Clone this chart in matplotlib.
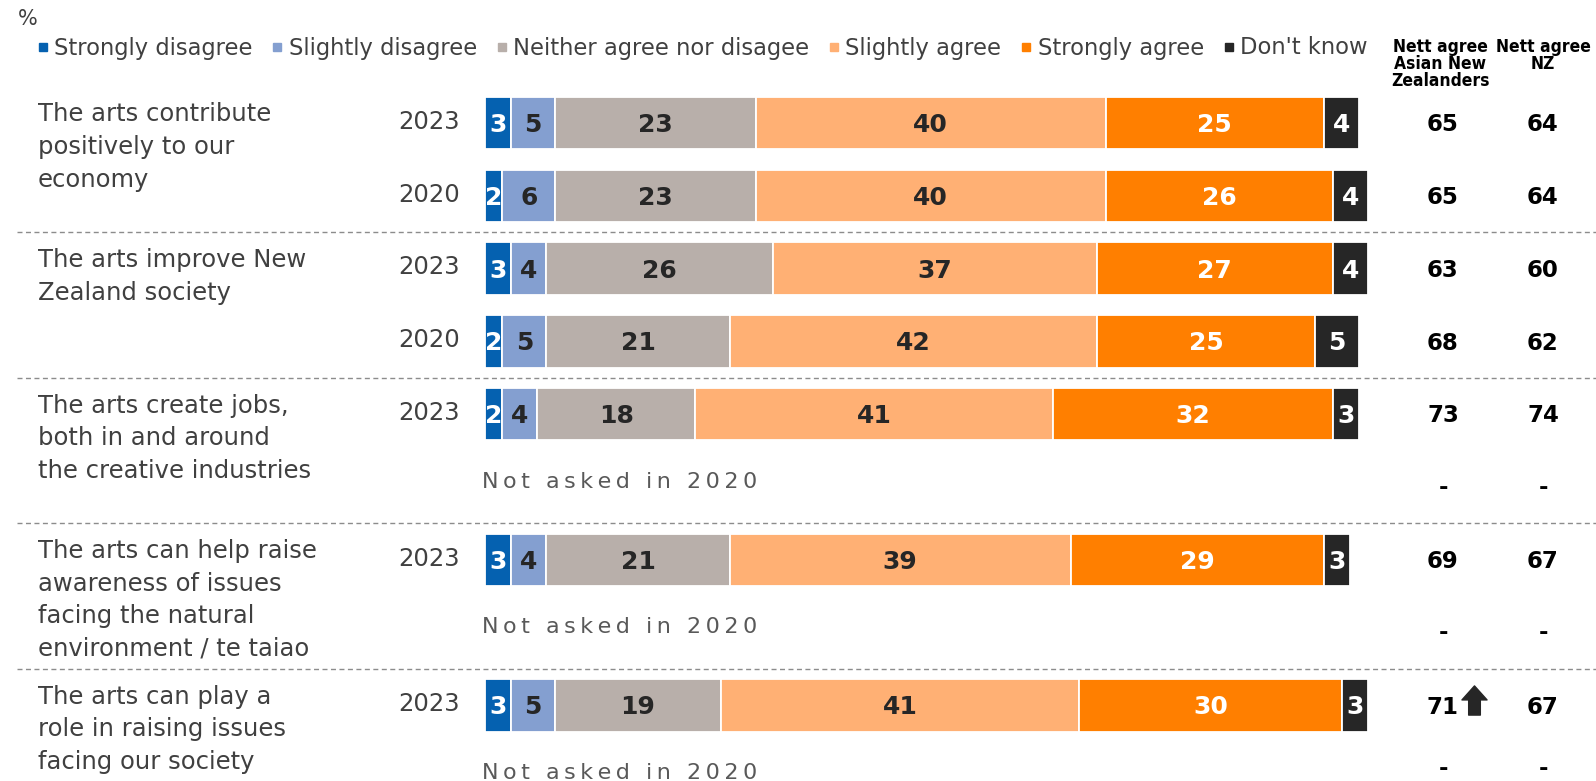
import numpy as np
import matplotlib
matplotlib.use('Agg')
import matplotlib.pyplot as plt
from matplotlib import transforms
from matplotlib.path import Path
from matplotlib.lines import Line2D

plt.rcParams['font.family'] = ['DejaVu Sans']

# Answer scale and colours
categories = ['Strongly disagree', 'Slightly disagree', 'Neither agree nor disagee',
              'Slightly agree', 'Strongly agree', "Don't know"]
colors = ['#0561b0', '#849fd0', '#b8afaa', '#ffb074', '#ff7f00', '#262626']
value_colors = ['white', '#262626', '#262626', '#262626', 'white', 'white']

statements = ['The arts contribute\npositively to our\neconomy',
              'The arts improve New\nZealand society',
              'The arts create jobs,\nboth in and around\nthe creative industries',
              'The arts can help raise\nawareness of issues\nfacing the natural\nenvironment / te taiao',
              'The arts can play a\nrole in raising issues\nfacing our society']
# bar rows that belong to each statement (2023 first, then 2020 if asked)
statement_rows = [[0, 1], [2, 3], [4], [5], [6]]

years = ['2023', '2020', '2023', '2020', '2023', '2023', '2023']
strongly_disagree = [3, 2, 3, 2, 2, 3, 3]
slightly_disagree = [5, 6, 4, 5, 4, 4, 5]
neither = [23, 23, 26, 21, 18, 21, 19]
slightly_agree = [40, 40, 37, 42, 41, 39, 41]
strongly_agree = [25, 26, 27, 25, 32, 29, 30]
dont_know = [4, 4, 4, 5, 3, 3, 3]
nett_asian = [65, 65, 63, 68, 73, 69, 71]
nett_nz = [64, 64, 60, 62, 74, 67, 67]
sig_higher = [False, False, False, False, False, False, True]

series = [strongly_disagree, slightly_disagree, neither, slightly_agree, strongly_agree, dont_know]

W, H = 1596, 781
fig = plt.figure(figsize=(W / 100, H / 100), dpi=100)
fig.patch.set_facecolor('white')

def fx(px):
    return px / W

# bar area: 0-100% spans these pixels, one slot per row
bar_left, bar_right = 485, 1359
slot_px, first_slot_px = 72.8, 123
ax = fig.add_axes([fx(bar_left), 0, fx(bar_right - bar_left), 1])
ax.set_xlim(0, 100)
ax.set_ylim((H - first_slot_px) / slot_px, -first_slot_px / slot_px)
ax.axis('off')

mix = transforms.blended_transform_factory(fig.transFigure, ax.transData)
text_col = '#404040'

def cap_text(x, y, s, size, trans, **kw):
    # put the middle of the cap height on y
    tr = transforms.offset_copy(trans, fig=fig, y=-0.36 * size, units='points')
    return ax.text(x, y, s, transform=tr, fontsize=size, va='baseline', clip_on=False, **kw)

# work out the slot of every bar row
row_slot = {}
not_asked_slots = []
for i, rows in enumerate(statement_rows):
    for j, r in enumerate(rows):
        row_slot[r] = 2 * i + j
    if len(rows) == 1:
        not_asked_slots.append(2 * i + 1)
slots = np.array([row_slot[r] for r in range(len(years))])

# stacked bars
left = np.zeros(len(years))
for vals, c, tc in zip(series, colors, value_colors):
    vals = np.array(vals, dtype=float)
    ax.barh(slots, vals, left=left, height=0.72, color=c, edgecolor='white',
            linewidth=1.3, clip_on=False)
    for y, l, v in zip(slots, left, vals):
        cap_text(l + v / 2, y, f'{v:.0f}', 18, ax.transData, ha='center',
                 color=tc, fontweight='bold')
    left += vals

# statement labels: first line's baseline sits level with the 2023 bar
label_size = 17.5
label_tr = transforms.offset_copy(mix, fig=fig, y=0.76 * label_size + 1.5, units='points')
for i, s in enumerate(statements):
    ax.text(fx(38), 2 * i, s, transform=label_tr, fontsize=label_size, color=text_col,
            va='top', ha='left', linespacing=1.45)
for y, yr in zip(slots, years):
    cap_text(fx(460), y - 0.04, yr, 17.5, mix, ha='right', color=text_col)
for y in not_asked_slots:
    cap_text(fx(482), y - 0.1, '\u2009'.join('Not asked in 2020'), 16, mix,
             ha='left', color='#595959')

# nett agree columns
col_asian, col_nz = 1443, 1543
for y, a, n, up in zip(slots, nett_asian, nett_nz, sig_higher):
    cap_text(fx(col_asian), y, str(a), 16.5, mix, ha='center', color='black', fontweight='bold')
    cap_text(fx(col_nz), y, str(n), 16.5, mix, ha='center', color='black', fontweight='bold')
    if up:
        arrow = Path([(-0.2, -0.5), (0.2, -0.5), (0.2, 0.02), (0.43, 0.02), (0, 0.5),
                      (-0.43, 0.02), (-0.2, 0.02), (-0.2, -0.5)],
                     [Path.MOVETO] + [Path.LINETO] * 6 + [Path.CLOSEPOLY])
        ax.plot([fx(col_asian + 31)], [y - 0.07], transform=mix, marker=arrow,
                markersize=21, color='#262626', clip_on=False)
# no nett figure where the question wasn't asked; keep the last one inside the figure
lowest = ax.get_ylim()[0] - 0.2
for y in not_asked_slots:
    yd = min(y - 0.02, lowest)
    cap_text(fx(col_asian), yd, '-', 16.5, mix, ha='center', color='black', fontweight='bold')
    cap_text(fx(col_nz), yd, '-', 16.5, mix, ha='center', color='black', fontweight='bold')

fig.text(fx(1440), 1 - 38 / H, 'Nett agree\nAsian New\nZealanders', ha='center', va='top',
         fontsize=12.5, fontweight='bold', fontstretch='condensed', linespacing=0.93,
         color='black')
fig.text(fx(1543), 1 - 38 / H, 'Nett agree\nNZ', ha='center', va='top',
         fontsize=12.5, fontweight='bold', fontstretch='condensed', linespacing=0.93,
         color='black')

# dashed separators between statements
for i in range(len(statements) - 1):
    ax.plot([fx(17), 1.0], [2 * i + 1.5] * 2, transform=mix, color='#8c8c8c',
            lw=1.0, dashes=(3.6, 2.5), clip_on=False)

# legend and unit
handles = [Line2D([], [], marker='s', ls='none', color=c, markersize=6) for c in colors]
fig.legend(handles, categories, loc='center left', bbox_to_anchor=(fx(38), 1 - 48 / H),
           ncol=6, frameon=False, fontsize=16.3, handlelength=0.4, handletextpad=0.3,
           columnspacing=0.9, borderpad=0, borderaxespad=0, labelcolor=text_col)
fig.text(fx(18), 1 - 19 / H, '%', fontsize=15, color=text_col, va='center', ha='left')

fig.savefig('out.png', dpi=100)
